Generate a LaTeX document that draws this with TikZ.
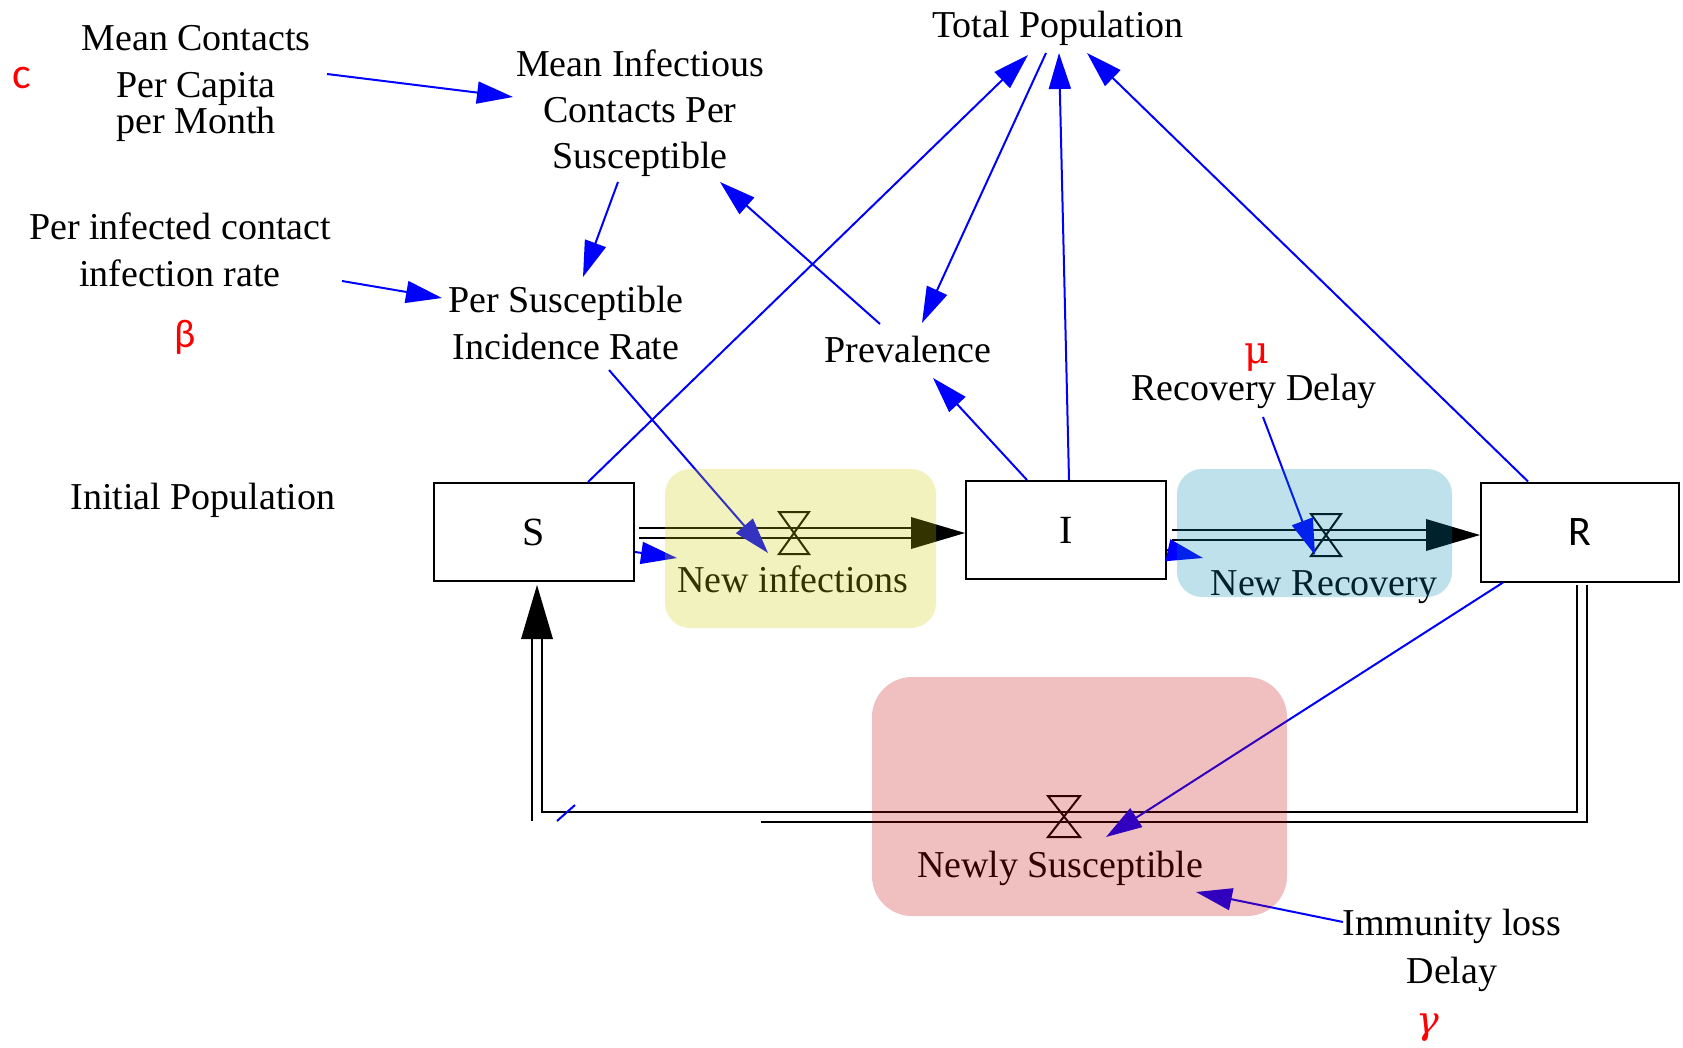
\documentclass[tikz,border=0pt]{standalone}
\usepackage{fontspec}
\setmainfont{Liberation Serif}
\newfontfamily\sansgr{Carlito}
\newfontfamily\serifgr{DejaVu Serif}
\usetikzlibrary{arrows.meta,calc}

\definecolor{linkblue}{RGB}{0,0,255}
\definecolor{ovyellow}{RGB}{204,204,0}
\definecolor{ovblue}{RGB}{0,136,180}
\definecolor{ovpink}{RGB}{196,0,0}

\begin{document}
\begin{tikzpicture}[x=1pt,y=-1pt,
  lbl/.style={inner sep=0pt, anchor=base, align=center, font=\fontsize{38}{46}\selectfont},
  stock/.style={draw, line width=2pt, fill=white, minimum width=200pt, minimum height=98pt, inner sep=0pt},
  infl/.style={draw=linkblue, color=linkblue, line width=2pt, -{Triangle[length=36pt,width=22pt]}},
  flowline/.style={double, double distance=8pt, line width=2pt},
  flowedge/.style={line width=2pt},
  valve/.style={line width=2pt, line join=miter},
  greek/.style={text=red, inner sep=0pt},
  panel/.style={fill opacity=0.25, rounded corners=#1}
]
\useasboundingbox (0,0) rectangle (1683,1047);

% stocks
\node[stock, font=\fontsize{40}{46}\selectfont] (S) at (534,532) {S};
\node[stock, font=\fontsize{40}{46}\selectfont] (I) at (1066,530) {I};
\node[stock, font=\sansgr\fontsize{42}{46}\selectfont, minimum height=99pt, minimum width=198pt] (R) at (1580,532) {R};

% auxiliary variables (base anchor = baseline of the last line)
\node[lbl] (tp) at (1058,37) {Total Population};
\node[lbl] (mc) at (196,133) {Mean Contacts\\[1pt]Per Capita\\[-10pt]per Month};
\node[lbl] (mi) at (640,168) {Mean Infectious\\Contacts Per\\Susceptible};
\node[lbl] (pic) at (180,286) {Per infected contact\\[1pt]infection rate};
\node[lbl] (psir) at (566,359) {Per Susceptible\\[1pt]Incidence Rate};
\node[lbl] (prev) at (908,362) {Prevalence};
\node[lbl] (rd) at (1254,400) {Recovery Delay};
\node[lbl] (ild) at (1452,983) {Immunity loss\\[2pt]Delay};
\node[lbl] (ip) at (203,509) {Initial Population};

% parameter symbols
\node[greek, font=\sansgr\fontsize{44}{46}\selectfont] (csym) at (22,78) {c};
\node[greek, font=\sansgr\fontsize{40}{46}\selectfont] (bsym) at (185,337) {β};
\node[greek, font=\serifgr\fontsize{38}{46}\selectfont] (msym) at (1257,358) {μ};
\node[greek, font=\serifgr\itshape\fontsize{38}{46}\selectfont] (gsym) at (1428,1028) {γ};

% valves
\coordinate (vSI) at (794,533);
\coordinate (vIR) at (1326,535);
\coordinate (vRS) at (1064,817);
\coordinate (loopSW) at ([xshift=3pt]S.south |- vRS);
\coordinate (loopSE) at ([xshift=2pt]R.south |- vRS);

% flow S -> I
\draw[flowline, shorten >=50pt] ([xshift=4pt]S.east |- vSI) -- (I.west |- vSI);
\fill (I.west |- vSI) -- ++(-54,-16) -- ++(0,32) -- cycle;
\draw[valve] ([shift={(-15,-21)}]vSI) -- ++(30,0) -- ++(-30,42) -- ++(30,0) -- cycle;
\node[lbl] (ni) at (793,592) {New infections};

% flow I -> R
\draw[flowline, shorten >=50pt] ([xshift=5pt]I.east |- vIR) -- (R.west |- vIR);
\fill (R.west |- vIR) -- ++(-54,-16) -- ++(0,32) -- cycle;
\draw[valve] ([shift={(-15,-21)}]vIR) -- ++(30,0) -- ++(-30,42) -- ++(30,0) -- cycle;
\node[lbl] (nr) at (1324,595) {New Recovery};

% flow R -> S (return loop)
\draw[flowedge] ([shift={(-5,-232)}]loopSE) -- ([shift={(-5,-5)}]loopSE) -- ([shift={(5,-5)}]loopSW) -- ([shift={(5,-178)}]loopSW);
\draw[flowedge] ([shift={(5,-232)}]loopSE) -- ([shift={(5,5)}]loopSE) -- ([shift={(-821,5)}]loopSE);
\draw[flowedge] ([shift={(-5,-178)}]loopSW) -- ([shift={(-5,4)}]loopSW);
\fill ([shift={(0,-232)}]loopSW) -- ++(-16,54) -- ++(32,0) -- cycle;
\draw[linkblue, line width=2pt] ([shift={(20,4)}]loopSW) -- ([shift={(38,-12)}]loopSW);
\draw[valve] ([shift={(-16,-21)}]vRS) -- ++(32,0) -- ++(-32,41) -- ++(32,0) -- cycle;
\node[lbl] (ns) at (1060,877) {Newly Susceptible};

% causal links
\draw[infl] ([shift={(131,-59)}]mc.base) -- ([shift={(-127,-71)}]mi.base);
\draw[infl] ([shift={(-22,14)}]mi.base) -- ([shift={(17,-82)}]psir.base);
\draw[infl] ([shift={(162,-5)}]pic.base) -- ([shift={(-124,-61)}]psir.base);
\draw[infl] ([shift={(43,11)}]psir.base) -- ([shift={(-26,20)}]vSI);
\draw[infl] ([shift={(-28,-38)}]prev.base) -- ([shift={(80,14)}]mi.base);
\draw[infl] ([xshift=54pt]S.north) -- ([shift={(-30,18)}]tp.base);
\draw[infl] ([shift={(-12,16)}]tp.base) -- ([shift={(14,-39)}]prev.base);
\draw[infl] ([xshift=3pt]I.north) -- ([shift={(1,16)}]tp.base);
\draw[infl] ([xshift=-52pt]R.north) -- ([shift={(29,16)}]tp.base);
\draw[infl] ([xshift=-39pt]I.north) -- ([shift={(25,16)}]prev.base);
\draw[infl] ([shift={(9,17)}]rd.base) -- ([shift={(-11,20)}]vIR);
\draw[infl] ([xshift=-77pt]R.south) -- ([shift={(42,20)}]vRS);
\draw[infl] ([shift={(-109,-61)}]ild.base) -- ([shift={(136,15)}]ns.base);
\draw[infl] ([shift={(0,20)}]S.east) -- ([shift={(-117,25)}]vSI);
\draw[infl] ([shift={(0,20)}]I.east) -- ([shift={(-123,23)}]vIR);

% rate highlight panels
\fill[ovyellow, panel=25pt] (665,469) rectangle (936,628);
\fill[ovblue, panel=25pt] (1177,469) rectangle (1452,597);
\fill[ovpink, panel=40pt] (872,677) rectangle (1287,916);
\end{tikzpicture}
\end{document}
